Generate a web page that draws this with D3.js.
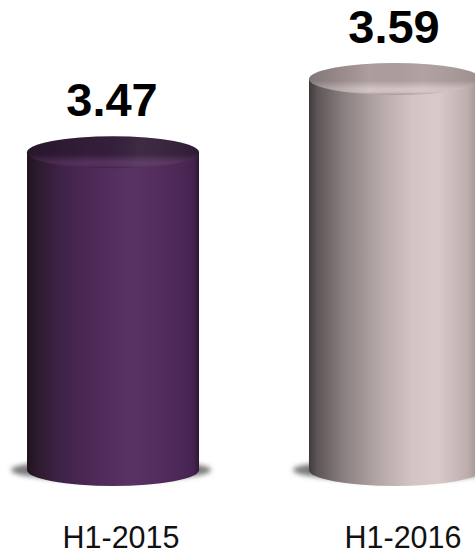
<!DOCTYPE html>
<html>
<head>
<meta charset="utf-8">
<script src="https://cdn.jsdelivr.net/npm/d3@7"></script>
<style>
  html, body { margin: 0; padding: 0; background: #ffffff; }
  svg { display: block; }
</style>
</head>
<body>
<svg id="chart" width="475" height="553"></svg>
<script>
// Half-year values
const categories = ["H1-2015", "H1-2016"];
const values = [3.47, 3.59];
const valueLabels = ["3.47", "3.59"];

// Body shading per cylinder: left-to-right stops (offset, colour)
const bodyStops = [
  [[0, "#1f131f"], [0.06, "#2c1a2e"], [0.2, "#3f2347"], [0.4, "#4f2a58"], [0.6, "#5a3365"], [0.85, "#4f2a58"], [0.97, "#452350"], [1, "#2e1833"]],
  [[0, "#3f3b3c"], [0.05, "#5e5657"], [0.2, "#8a7f80"], [0.4, "#b3a6a6"], [0.6, "#d4c5c4"], [0.75, "#d9c9c8"], [0.92, "#bfaeae"], [1, "#9a8d8d"]]
];
const capTop = ["#331d39", "#ad9d9d"];
const capBevel = ["#55305d", "#d2c4c3"];
const capEdge = ["#3e2446", "#a89a9a"];

const W = 475, H = 553;
const svg = d3.select("#chart");
const defs = svg.append("defs");

const x = d3.scaleBand().domain(categories).range([27, 481]).paddingInner(0.39).paddingOuter(0);
const y = d3.scaleLinear().domain([2.95, 3.59]).range([470, 79]);
const ry = 16;

defs.append("filter").attr("id", "soft").attr("x", "-20%").attr("y", "-100%").attr("width", "140%").attr("height", "300%")
  .append("feGaussianBlur").attr("stdDeviation", 2.5);

categories.forEach((c, i) => {
  const g = defs.append("linearGradient").attr("id", "body" + i).attr("x1", 0).attr("x2", 1).attr("y1", 0).attr("y2", 0);
  bodyStops[i].forEach(s => g.append("stop").attr("offset", s[0]).attr("stop-color", s[1]));
  const cg = defs.append("linearGradient").attr("id", "cap" + i).attr("x1", 0).attr("x2", 0).attr("y1", 0).attr("y2", 1);
  cg.append("stop").attr("offset", 0).attr("stop-color", capTop[i]);
  cg.append("stop").attr("offset", 0.55).attr("stop-color", capTop[i]);
  cg.append("stop").attr("offset", 0.8).attr("stop-color", capBevel[i]);
  cg.append("stop").attr("offset", 0.9).attr("stop-color", capBevel[i]);
  cg.append("stop").attr("offset", 1).attr("stop-color", capEdge[i]);
  const hg = defs.append("linearGradient").attr("id", "capx" + i).attr("x1", 0).attr("x2", 1).attr("y1", 0).attr("y2", 0);
  hg.append("stop").attr("offset", 0).attr("stop-color", "#000").attr("stop-opacity", 0.25);
  hg.append("stop").attr("offset", 0.35).attr("stop-color", "#000").attr("stop-opacity", 0);
  hg.append("stop").attr("offset", 0.65).attr("stop-color", "#fff").attr("stop-opacity", 0.06);
  hg.append("stop").attr("offset", 1).attr("stop-color", "#000").attr("stop-opacity", 0.1);
});

const base = y(y.domain()[0]);

const bars = svg.selectAll("g.bar").data(values).join("g").attr("class", "bar");

// floor shadow
bars.append("ellipse")
  .attr("cx", (d, i) => x(categories[i]) + x.bandwidth() / 2 - 2)
  .attr("cy", base)
  .attr("rx", x.bandwidth() / 2 + 14)
  .attr("ry", 11)
  .attr("fill", "#7a7a7a")
  .attr("filter", "url(#soft)");

// cylinder body
bars.append("path")
  .attr("fill", (d, i) => `url(#body${i})`)
  .attr("d", (d, i) => {
    const x0 = x(categories[i]), x1 = x0 + x.bandwidth(), rx = x.bandwidth() / 2;
    const yt = y(d);
    return `M${x0},${yt} L${x0},${base} A${rx},${ry} 0 0 0 ${x1},${base} L${x1},${yt} Z`;
  });

// top cap
bars.append("ellipse")
  .attr("cx", (d, i) => x(categories[i]) + x.bandwidth() / 2)
  .attr("cy", d => y(d))
  .attr("rx", x.bandwidth() / 2)
  .attr("ry", ry)
  .attr("fill", (d, i) => `url(#cap${i})`);
bars.append("ellipse")
  .attr("cx", (d, i) => x(categories[i]) + x.bandwidth() / 2)
  .attr("cy", d => y(d))
  .attr("rx", x.bandwidth() / 2)
  .attr("ry", ry)
  .attr("fill", (d, i) => `url(#capx${i})`);

// value labels
bars.append("text")
  .attr("x", (d, i) => x(categories[i]) + x.bandwidth() / 2 - 1)
  .attr("y", d => y(d) - ry - 20)
  .attr("text-anchor", "middle")
  .attr("font-family", "Liberation Sans, Arial, sans-serif")
  .attr("font-weight", "bold")
  .attr("font-size", 47)
  .attr("fill", "#000")
  .text((d, i) => valueLabels[i]);

// category labels
svg.selectAll("text.cat").data(categories).join("text")
  .attr("class", "cat")
  .attr("x", c => x(c) + x.bandwidth() / 2 + 8)
  .attr("y", 548)
  .attr("text-anchor", "middle")
  .attr("font-family", "Liberation Sans, Arial, sans-serif")
  .attr("font-size", 30.5)
  .attr("fill", "#111")
  .text(c => c);
</script>
</body>
</html>
